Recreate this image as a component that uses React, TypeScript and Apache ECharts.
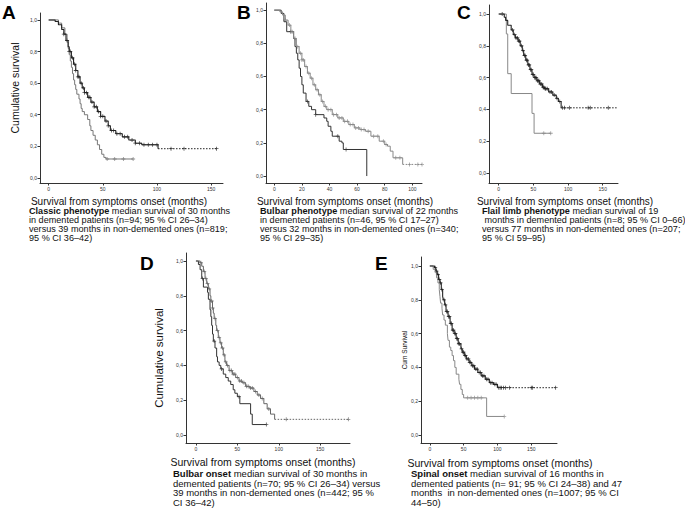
import React, { useEffect, useRef } from "react";
import * as echarts from "echarts";

type Pt = [number, number];

// ---------- data (months, cumulative survival) ----------
const A_demented: Pt[] = [[0,1],[9,0.98],[12,0.95],[15,0.91],[17,0.86],[18,0.82],[19,0.78],[20,0.74],[21,0.7],[22,0.66],[23,0.62],[24,0.59],[25,0.56],[26,0.53],[28,0.5],[29,0.47],[30,0.44],[31,0.42],[33,0.4],[36,0.37],[38,0.33],[39,0.3],[41,0.27],[43,0.24],[45,0.21],[47,0.18],[49,0.15],[51,0.13],[53,0.12],[78,0.12]];
const A_demented_censor = [54, 61, 69, 78];
const A_nondemented: Pt[] = [[0,1],[6,0.99],[9,0.97],[12,0.94],[14,0.91],[16,0.87],[18,0.83],[19,0.8],[21,0.76],[23,0.72],[25,0.68],[27,0.64],[29,0.6],[31,0.57],[33,0.54],[36,0.51],[39,0.48],[42,0.45],[45,0.42],[48,0.39],[52,0.36],[55,0.33],[57,0.3],[62,0.28],[68,0.26],[74,0.24],[80,0.22],[86,0.21],[101,0.185],[155,0.185]];
const A_nondemented_censor = [14,17,19,20,22,24,25,27,28,30,32,33,35,37,38,40,42,44,46,48,50,53,55,58,60,63,66,70,73,77,80,84,88,92,96,100,113,125,155];

const B_demented: Pt[] = [[0,1],[5,0.98],[7,0.93],[9,0.87],[14,0.83],[15,0.78],[16,0.74],[17,0.7],[18,0.65],[19,0.6],[20,0.55],[21,0.5],[23,0.45],[25,0.42],[27,0.4],[30,0.37],[36,0.35],[38,0.33],[39,0.3],[41,0.27],[42,0.24],[47,0.21],[49,0.2],[50,0.16],[67,0]];
const B_demented_censor = [12, 24, 30, 46, 52];
const B_nondemented: Pt[] = [[0,1],[4,0.99],[6,0.97],[8,0.94],[10,0.91],[12,0.87],[14,0.83],[16,0.78],[18,0.74],[20,0.7],[22,0.66],[24,0.62],[26,0.59],[28,0.55],[30,0.52],[32,0.49],[34,0.45],[36,0.42],[38,0.4],[42,0.37],[46,0.35],[50,0.33],[54,0.31],[58,0.29],[62,0.28],[66,0.27],[70,0.24],[76,0.21],[80,0.19],[82,0.18],[84,0.15],[86,0.11],[93,0.07],[107,0.07]];
const B_nondemented_censor = [8,11,13,15,17,19,20,21,23,25,27,29,31,33,35,37,39,41,43,45,47,49,51,53,55,57,59,61,63,65,68,72,75,79,81,88,91,98,104,107];

const C_demented: Pt[] = [[0,1],[11,0.875],[13,0.625],[18,0.5],[48,0.375],[51,0.25],[75,0.25]];
const C_demented_censor = [65, 75];
const C_nondemented: Pt[] = [[0,1],[8,0.98],[10,0.96],[13,0.93],[18,0.9],[21,0.87],[24,0.85],[28,0.83],[31,0.8],[34,0.77],[36,0.74],[39,0.71],[42,0.68],[45,0.65],[48,0.62],[51,0.6],[55,0.58],[59,0.56],[63,0.54],[66,0.53],[72,0.51],[78,0.49],[83,0.47],[86,0.45],[90,0.41],[172,0.41]];
const C_nondemented_censor = [5,20,23,25,27,29,30,33,35,37,38,40,41,43,44,46,47,49,50,52,53,54,56,57,58,60,62,64,65,67,68,70,74,76,80,84,88,92,95,102,129,132,158];

const D_demented: Pt[] = [[0,1],[3,0.98],[5,0.95],[7,0.9],[9,0.85],[14,0.82],[15,0.78],[17,0.72],[18,0.68],[19,0.63],[20,0.58],[21,0.54],[23,0.5],[25,0.45],[26,0.42],[28,0.4],[30,0.38],[33,0.35],[36,0.33],[39,0.31],[42,0.29],[45,0.26],[47,0.24],[50,0.22],[53,0.18],[66,0.12],[68,0.06],[85,0.06]];
const D_demented_censor = [8, 22, 31, 52, 85];
const D_nondemented: Pt[] = [[0,1],[5,0.99],[7,0.97],[9,0.94],[11,0.9],[13,0.87],[15,0.84],[17,0.8],[18,0.77],[20,0.73],[21,0.7],[22,0.67],[24,0.63],[25,0.6],[27,0.56],[29,0.53],[31,0.5],[33,0.46],[35,0.42],[37,0.4],[40,0.37],[44,0.35],[48,0.33],[52,0.31],[56,0.3],[60,0.28],[65,0.27],[70,0.25],[74,0.23],[78,0.21],[82,0.18],[86,0.15],[90,0.12],[95,0.09],[184,0.09]];
const D_nondemented_censor = [6,10,12,14,16,19,20,23,26,28,30,32,34,36,38,41,43,45,47,50,53,55,58,61,63,66,68,72,76,80,88,109,184];

const E_demented: Pt[] = [[0,1],[5,0.98],[8,0.96],[10,0.93],[12,0.9],[14,0.86],[15,0.82],[16,0.78],[18,0.75],[19,0.71],[21,0.68],[23,0.65],[26,0.6],[27,0.56],[29,0.52],[31,0.5],[33,0.47],[35,0.44],[37,0.4],[39,0.36],[43,0.33],[44,0.3],[46,0.27],[48,0.24],[50,0.22],[84,0.11],[110,0.11]];
const E_demented_censor = [56, 61, 66, 71, 76, 110];
const E_nondemented: Pt[] = [[0,1],[7,0.99],[9,0.97],[11,0.95],[13,0.92],[15,0.9],[17,0.86],[19,0.82],[20,0.8],[22,0.77],[24,0.73],[27,0.7],[30,0.66],[33,0.62],[36,0.6],[39,0.57],[42,0.54],[46,0.51],[48,0.49],[51,0.47],[54,0.45],[58,0.43],[62,0.41],[66,0.39],[71,0.37],[76,0.35],[82,0.33],[88,0.31],[94,0.3],[100,0.28],[186,0.28]];
const E_nondemented_censor = [8,10,12,14,16,18,21,23,25,26,28,29,31,32,34,35,37,38,40,41,43,44,47,49,50,52,53,55,57,59,60,63,65,68,70,73,75,78,80,84,86,90,92,96,98,102,104,106,109,112,118,150,152,186];

const yTicks = [0, 0.2, 0.4, 0.6, 0.8, 1.0];
const xTicks50 = [0, 50, 100, 150];
const xTicks20 = [0, 20, 40, 60, 80, 100];

const xTitle = "Survival from symptoms onset (months)";
const captionA = "{b|Classic phenotype} median survival of 30 months\nin demented patients (n=94; 95 % CI 26–34)\nversus 39 months in non-demented ones (n=819;\n95 % CI 36–42)";
const captionB = "{b|Bulbar phenotype} median survival of 22 months\nin demented patients (n=46, 95 % CI 17–27)\nversus 32 months in non-demented ones (n=340;\n95 % CI 29–35)";
const captionC = "{b|Flail limb phenotype} median survival of 19\n months in demented patients (n=8; 95 % CI 0–66)\nversus 77 months in non-demented ones (n=207;\n95 % CI 59–95)";
const captionD = "{b|Bulbar onset} median survival of 30 months in\ndemented patients (n=70; 95 % CI 26–34) versus\n39 months in non-demented ones (n=442; 95 %\nCI 36–42)";
const captionE = "{b|Spinal onset} median survival of 16 months in\ndemented patients (n= 91; 95 % CI 24–38) and 47\nmonths  in non-demented ones (n=1007; 95 % CI\n44–50)";

const FONT = "'Liberation Sans', Arial, Helvetica, sans-serif";

interface Curve { steps: Pt[]; censor: number[]; color: string; width: number; dottedTail: boolean; }
interface Panel { left: number; top: number; width: number; height: number; xMin: number; xMax: number; yMin: number; yMax: number; xTicks: number[]; curves: Curve[]; }

const panels: Panel[] = [
  { left: 40, top: 13, width: 183, height: 170, xMin: -8, xMax: 161, yMin: -0.032, yMax: 1.044, xTicks: xTicks50,
    curves: [
      { steps: A_demented, censor: A_demented_censor, color: "#777", width: 1, dottedTail: false },
      { steps: A_nondemented, censor: A_nondemented_censor, color: "#222", width: 1.1, dottedTail: true },
    ] },
  { left: 266, top: 3, width: 156, height: 180, xMin: -6, xMax: 107, yMin: -0.042, yMax: 1.043, xTicks: xTicks20,
    curves: [
      { steps: B_demented, censor: B_demented_censor, color: "#333", width: 1, dottedTail: false },
      { steps: B_nondemented, censor: B_nondemented_censor, color: "#888", width: 1, dottedTail: true },
    ] },
  { left: 489, top: 5, width: 129, height: 178, xMin: -14, xMax: 172, yMin: -0.063, yMax: 1.057, xTicks: xTicks50,
    curves: [
      { steps: C_demented, censor: C_demented_censor, color: "#888", width: 1, dottedTail: false },
      { steps: C_nondemented, censor: C_nondemented_censor, color: "#222", width: 1.1, dottedTail: true },
    ] },
  { left: 186, top: 253, width: 164, height: 190, xMin: -12, xMax: 186, yMin: -0.046, yMax: 1.046, xTicks: xTicks50,
    curves: [
      { steps: D_demented, censor: D_demented_censor, color: "#333", width: 1, dottedTail: false },
      { steps: D_nondemented, censor: D_nondemented_censor, color: "#666", width: 1, dottedTail: true },
    ] },
  { left: 421, top: 257, width: 136, height: 186, xMin: -13, xMax: 188, yMin: -0.047, yMax: 1.053, xTicks: xTicks50,
    curves: [
      { steps: E_demented, censor: E_demented_censor, color: "#888", width: 1, dottedTail: false },
      { steps: E_nondemented, censor: E_nondemented_censor, color: "#222", width: 1.1, dottedTail: true },
    ] },
];

function survAt(steps: Pt[], t: number): number {
  let s = steps[0][1];
  for (const [ti, si] of steps) {
    if (ti <= t) s = si; else break;
  }
  return s;
}

const PLUS = "path://M2,0h1v5h-1zM0,2h5v1h-5z";

function buildOption() {
  const grid: any[] = [];
  const xAxis: any[] = [];
  const yAxis: any[] = [];
  const series: any[] = [];
  panels.forEach((p, i) => {
    grid.push({ left: p.left, top: p.top, width: p.width, height: p.height, containLabel: false, outerBoundsMode: "none" });
    xAxis.push({
      gridIndex: i, type: "value", min: p.xMin, max: p.xMax,
      axisLine: { show: true, onZero: false, lineStyle: { color: "#333", width: 1 } },
      axisTick: { show: true, length: 2.5, customValues: p.xTicks, lineStyle: { color: "#333" } },
      axisLabel: { show: true, customValues: p.xTicks, fontSize: 5, color: "#333", margin: 3, fontFamily: FONT },
      splitLine: { show: false },
    });
    yAxis.push({
      gridIndex: i, type: "value", min: p.yMin, max: p.yMax,
      axisLine: { show: true, onZero: false, lineStyle: { color: "#333", width: 1 } },
      axisTick: { show: true, length: 2.5, customValues: yTicks, lineStyle: { color: "#333" } },
      axisLabel: { show: true, customValues: yTicks, fontSize: 5, color: "#333", margin: 3, fontFamily: FONT,
        formatter: (v: number) => v.toFixed(1).replace(".", ",") },
      splitLine: { show: false },
    });
    p.curves.forEach((c) => {
      const n = c.steps.length;
      const solid = c.dottedTail ? c.steps.slice(0, n - 1) : c.steps;
      series.push({
        type: "line", xAxisIndex: i, yAxisIndex: i, data: solid, step: "end", showSymbol: false, silent: true,
        lineStyle: { color: c.color, width: c.width },
      });
      if (c.dottedTail) {
        series.push({
          type: "line", xAxisIndex: i, yAxisIndex: i, data: c.steps.slice(n - 2), step: "end", showSymbol: false, silent: true,
          lineStyle: { color: c.color, width: 1, type: [1.5, 1.5] },
        });
      }
      series.push({
        type: "scatter", xAxisIndex: i, yAxisIndex: i, silent: true,
        data: c.censor.map((t) => [t, survAt(c.steps, t)]),
        symbol: PLUS, symbolSize: 4, itemStyle: { color: c.color },
      });
    });
  });

  const letter = (t: string, x: number, y: number) => ({
    type: "text", x, y, style: { text: t, fontSize: 19, fontWeight: "bold", fontFamily: FONT, fill: "#000", textVerticalAlign: "top" },
  });
  const title = (x: number, y: number, fs: number) => ({
    type: "text", x, y, style: { text: xTitle, fontSize: fs, fontFamily: FONT, fill: "#111", textAlign: "center", textVerticalAlign: "middle" },
  });
  const caption = (t: string, x: number, y: number, fs: number, lh: number) => ({
    type: "text", x, y,
    style: {
      text: t, fontSize: fs, lineHeight: lh, fontFamily: FONT, fill: "#111", textVerticalAlign: "top",
      rich: { b: { fontWeight: "bold", fontSize: fs, lineHeight: lh, fontFamily: FONT, fill: "#111" } },
    },
  });
  const ytitle = (t: string, x: number, y: number, fs: number) => ({
    type: "text", x, y, rotation: Math.PI / 2,
    style: { text: t, fontSize: fs, fontFamily: FONT, fill: "#111", textAlign: "center", textVerticalAlign: "middle" },
  });

  const graphic = [
    letter("A", 2, 3), letter("B", 237, 3), letter("C", 457, 3), letter("D", 140, 254), letter("E", 375, 254),
    ytitle("Cumulative survival", 15, 88, 10.5), ytitle("Cumulative survival", 159, 358, 11.5), ytitle("Cum Survival", 404, 350, 6.5),
    title(119, 201, 10), title(345, 201, 10), title(565, 201, 10), title(263, 462, 10.5), title(500, 463, 10.5),
    caption(captionA, 29, 206.5, 9.1, 9.1), caption(captionB, 260, 206.5, 9.1, 9.1), caption(captionC, 482, 206.5, 9.1, 9.1),
    caption(captionD, 173, 469.2, 9.5, 9.5), caption(captionE, 411, 468.8, 9.5, 9.5),
  ];

  return { animation: false, backgroundColor: "#fff", grid, xAxis, yAxis, series, graphic };
}

export default function App() {
  const ref = useRef<HTMLDivElement>(null);
  useEffect(() => {
    if (!ref.current) return;
    const chart = echarts.init(ref.current, undefined, { renderer: "svg" });
    chart.setOption(buildOption() as any);
    return () => chart.dispose();
  }, []);
  return <div ref={ref} style={{ position: "absolute", left: 0, top: 0, width: 685, height: 510 }} />;
}
